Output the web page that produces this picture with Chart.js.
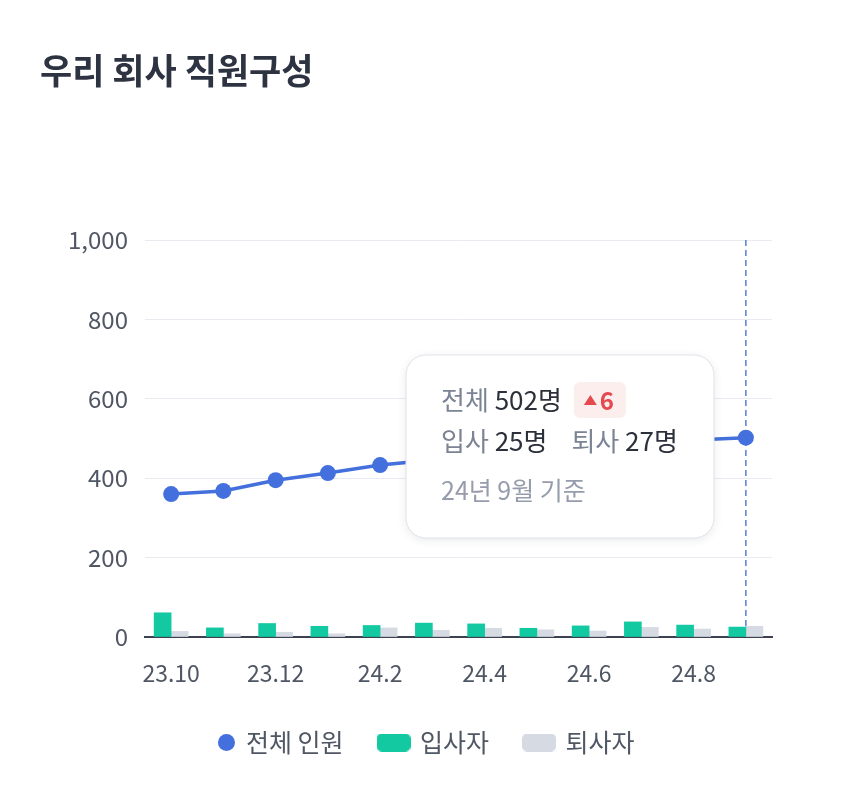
<!DOCTYPE html>
<html>
<head>
<meta charset="utf-8">
<script src="https://cdn.jsdelivr.net/npm/chart.js@4.4.1/dist/chart.umd.min.js"></script>
<style>
  html, body { margin: 0; padding: 0; background: #fff; }
  #wrap { width: 850px; height: 801px; }
</style>
</head>
<body>
<div id="wrap"><canvas id="staffChart"></canvas></div>
<script>
// data
var months = ['23.10', '23.11', '23.12', '24.1', '24.2', '24.3', '24.4', '24.5', '24.6', '24.7', '24.8', '24.9'];
var totalStaff = [360, 368, 395, 413, 433, 446, 458, 470, 480, 490, 496, 502];
var joined = [61, 23, 34, 27, 29, 35, 33, 22, 28, 38, 30, 25];
var resigned = [14, 8, 12, 8, 23, 17, 22, 18, 15, 24, 20, 27];
var yTicks = [0, 200, 400, 600, 800, 1000];

var FONT = "'Noto Sans CJK KR', 'Noto Sans', sans-serif";
var BLUE = '#4470dd';
var GREEN = '#12c9a2';
var GREY = '#d6dae3';
var TEXT = '#4f5664';

// little canvases used as legend markers
function marker(w, h, color, round) {
  var c = document.createElement('canvas');
  c.width = w; c.height = h;
  var g = c.getContext('2d');
  g.fillStyle = color;
  g.beginPath();
  if (round === 'circle') {
    // circle sits at the right end so it hugs its label
    g.arc(w - h / 2, h / 2, h / 2, 0, Math.PI * 2);
  } else {
    g.roundRect(0, 0, w, h, round);
  }
  g.fill();
  return c;
}
var legendMarks = [marker(31, 17, BLUE, 'circle'), marker(34, 18, GREEN, 5), marker(34, 18, GREY, 5)];

var lastIdx = months.length - 1;

var hoverPlugin = {
  id: 'hoverInfo',
  afterLayout: function (chart) {
    // legend is centred on the page, not on the plot
    chart.legend.left += 14;
    chart.legend.right += 14;
  },
  beforeDatasetsDraw: function (chart) {
    var ctx = chart.ctx;
    var x = chart.scales.x.getPixelForValue(lastIdx);
    var area = chart.chartArea;
    ctx.save();
    ctx.strokeStyle = '#5a7bd0';
    ctx.lineWidth = 1.5;
    ctx.setLineDash([6, 4]);
    ctx.beginPath();
    ctx.moveTo(x, area.top);
    ctx.lineTo(x, area.bottom);
    ctx.stroke();
    ctx.restore();
  },
  afterDraw: function (chart) {
    var ctx = chart.ctx;
    var bx = 406, by = 355, bw = 308, bh = 183;
    ctx.save();
    ctx.shadowColor = 'rgba(30, 40, 60, 0.10)';
    ctx.shadowBlur = 10;
    ctx.shadowOffsetY = 2;
    ctx.fillStyle = '#ffffff';
    ctx.beginPath();
    ctx.roundRect(bx, by, bw, bh, 20);
    ctx.fill();
    ctx.shadowColor = 'transparent';
    ctx.strokeStyle = '#dfe3ea';
    ctx.lineWidth = 1;
    ctx.stroke();

    var delta = totalStaff[lastIdx] - totalStaff[lastIdx - 1];
    ctx.textBaseline = 'middle';
    ctx.font = '26px ' + FONT;
    var x = 441, y1 = 400, y2 = 441, y3 = 490;

    function part(text, color, x0, y) {
      ctx.fillStyle = color;
      ctx.fillText(text, x0, y);
      return x0 + ctx.measureText(text).width;
    }
    var cx = part('전체 ', '#7b8494', x, y1);
    cx = part(totalStaff[lastIdx] + '명', '#2b303a', cx, y1);
    // change badge
    var badgeX = cx + 12;
    ctx.fillStyle = '#fdeeee';
    ctx.beginPath();
    ctx.roundRect(badgeX, y1 - 18, 52, 36, 6);
    ctx.fill();
    ctx.fillStyle = '#e5484d';
    ctx.beginPath();
    ctx.moveTo(badgeX + 10, y1 + 5);
    ctx.lineTo(badgeX + 23, y1 + 5);
    ctx.lineTo(badgeX + 16.5, y1 - 5);
    ctx.closePath();
    ctx.fill();
    ctx.font = 'bold 24px ' + FONT;
    ctx.fillText(String(delta), badgeX + 26, y1 + 1);

    ctx.font = '26px ' + FONT;
    cx = part('입사 ', '#7b8494', x, y2);
    cx = part(joined[lastIdx] + '명', '#2b303a', cx, y2);
    cx = part('퇴사 ', '#7b8494', cx + 24, y2);
    part(resigned[lastIdx] + '명', '#2b303a', cx, y2);

    ctx.font = '25px ' + FONT;
    part('24년 9월 기준', '#959cab', x, y3);
    ctx.restore();
  }
};

var ctx = document.getElementById('staffChart').getContext('2d');
var staffChart = new Chart(ctx, {
  data: {
    labels: months,
    datasets: [{
      type: 'line',
      label: '전체 인원',
      data: totalStaff,
      borderColor: BLUE,
      backgroundColor: BLUE,
      borderWidth: 3.5,
      pointRadius: 8,
      pointHoverRadius: 8,
      pointBorderWidth: 0,
      tension: 0,
      order: 0
    }, {
      type: 'bar',
      label: '입사자',
      data: joined,
      backgroundColor: GREEN,
      barThickness: 17,
      order: 1
    }, {
      type: 'bar',
      label: '퇴사자',
      data: resigned,
      backgroundColor: GREY,
      barThickness: 17,
      order: 2
    }]
  },
  options: {
    responsive: true,
    maintainAspectRatio: false,
    animation: false,
    events: [],
    layout: { padding: { top: 50, left: 40, right: 78, bottom: 36 } },
    plugins: {
      title: {
        display: true,
        text: '우리 회사 직원구성',
        align: 'start',
        color: '#2d3340',
        font: { family: FONT, size: 35, weight: 'bold', lineHeight: 1.2 },
        padding: { top: 0, bottom: 148 }
      },
      legend: {
        position: 'bottom',
        labels: {
          usePointStyle: true,
          pointStyleWidth: 28,
          boxHeight: 18,
          padding: 36,
          color: TEXT,
          font: { family: FONT, size: 25 },
          generateLabels: function (chart) {
            return chart.data.datasets.map(function (ds, i) {
              return {
                text: ds.label,
                pointStyle: legendMarks[i],
                fillStyle: ds.backgroundColor,
                strokeStyle: 'transparent',
                lineWidth: 0,
                fontColor: TEXT,
                datasetIndex: i
              };
            });
          }
        }
      },
      tooltip: { enabled: false }
    },
    scales: {
      x: {
        afterFit: function (scale) { scale.height = 57; },
        grid: { display: false, drawTicks: false },
        border: { display: true, color: '#3d4250', width: 2 },
        ticks: {
          autoSkip: false,
          maxRotation: 0,
          padding: 22,
          color: TEXT,
          font: { family: FONT, size: 23 },
          callback: function (v, i) { return i % 2 === 0 ? months[i] : ''; }
        }
      },
      y: {
        min: yTicks[0],
        max: yTicks[yTicks.length - 1],
        afterFit: function (scale) { scale.width = 105; },
        afterBuildTicks: function (scale) {
          scale.ticks = yTicks.map(function (v) { return { value: v }; });
        },
        grid: { color: '#e8ebf0', drawTicks: false },
        border: { display: false },
        ticks: {
          padding: 17,
          color: TEXT,
          font: { family: FONT, size: 24 },
          callback: function (v) { return v.toLocaleString('en-US'); }
        }
      }
    }
  },
  plugins: [hoverPlugin]
});
</script>
</body>
</html>
